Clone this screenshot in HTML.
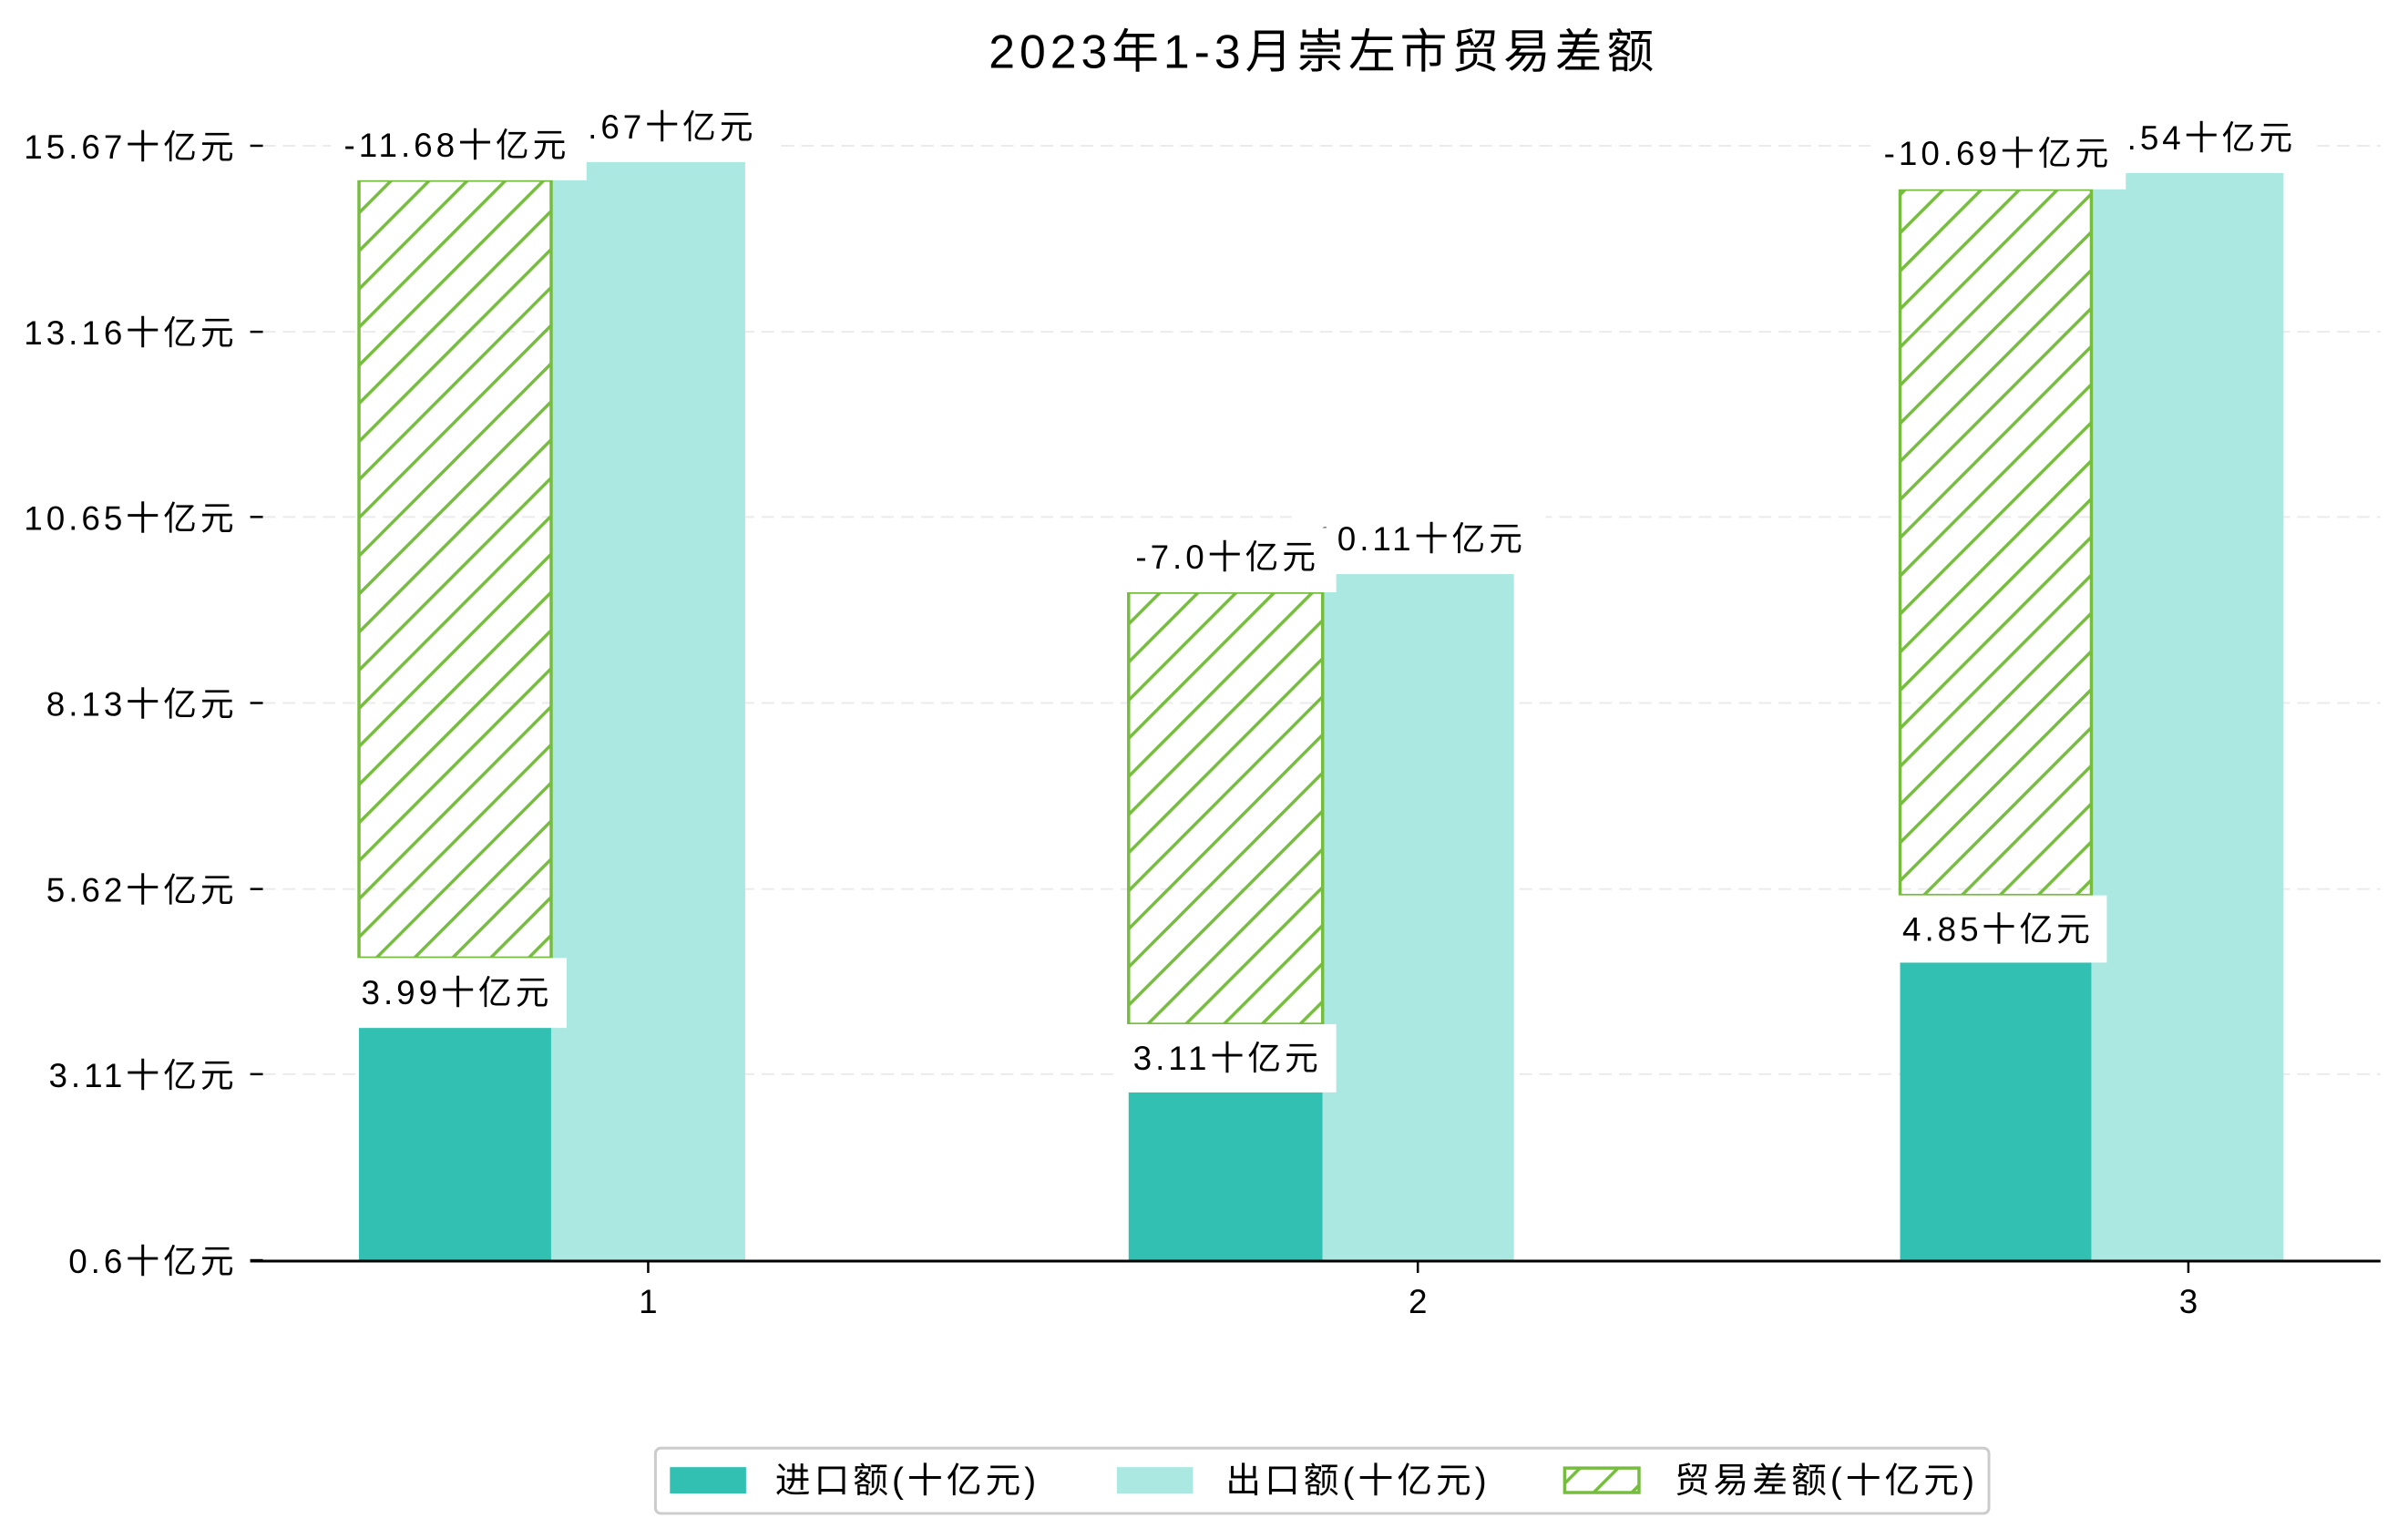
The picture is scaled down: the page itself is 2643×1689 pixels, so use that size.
<!DOCTYPE html>
<html><head><meta charset="utf-8"><style>
html,body{margin:0;padding:0;background:#fff;}
svg{display:block;}
text{font-family:"Liberation Sans","Noto Sans CJK SC",sans-serif;fill:#000;}
</style></head><body>
<svg width="2643" height="1689" viewBox="0 0 2643 1689" xmlns="http://www.w3.org/2000/svg">
<defs>
<pattern id="h" patternUnits="userSpaceOnUse" width="42" height="42">
<line x1="-2" y1="44" x2="44" y2="-2" stroke="#76bd3f" stroke-width="3.5"/>
<line x1="-23" y1="23" x2="23" y2="-23" stroke="#76bd3f" stroke-width="3.5"/>
<line x1="19" y1="65" x2="65" y2="19" stroke="#76bd3f" stroke-width="3.5"/>
</pattern>
</defs>
<g transform="translate(0,0.6) scale(0.995,0.996)">
<text x="1460" y="74" font-size="52" letter-spacing="5" text-anchor="middle">2023年1-3月崇左市贸易差额</text>
<g stroke="#ebebeb" stroke-width="2" stroke-dasharray="14,8">
<line x1="290" y1="160" x2="2626" y2="160"/>
<line x1="290" y1="365" x2="2626" y2="365"/>
<line x1="290" y1="569" x2="2626" y2="569"/>
<line x1="290" y1="774" x2="2626" y2="774"/>
<line x1="290" y1="979" x2="2626" y2="979"/>
<line x1="290" y1="1183" x2="2626" y2="1183"/>
</g>
<g stroke="#000" stroke-width="2.5">
<line x1="276" y1="160" x2="290" y2="160"/>
<line x1="276" y1="365" x2="290" y2="365"/>
<line x1="276" y1="569" x2="290" y2="569"/>
<line x1="276" y1="774" x2="290" y2="774"/>
<line x1="276" y1="979" x2="290" y2="979"/>
<line x1="276" y1="1183" x2="290" y2="1183"/>
<line x1="276" y1="1388" x2="290" y2="1388"/>
</g>
<g font-size="37" text-anchor="end" letter-spacing="4">
<text x="262" y="174">15.67十亿元</text>
<text x="262" y="379">13.16十亿元</text>
<text x="262" y="583">10.65十亿元</text>
<text x="262" y="788">8.13十亿元</text>
<text x="262" y="993">5.62十亿元</text>
<text x="262" y="1197">3.11十亿元</text>
<text x="262" y="1402">0.6十亿元</text>
</g>
<g fill="#32c0b3">
<rect x="396" y="1132" width="212" height="256"/>
<rect x="1245" y="1203" width="214" height="185"/>
<rect x="2096" y="1060" width="211" height="328"/>
</g>
<g fill="#aae8e1">
<rect x="608" y="178" width="214" height="1210"/>
<rect x="1459" y="632" width="211" height="756"/>
<rect x="2307" y="190" width="212" height="1198"/>
</g>
<g fill="url(#h)" stroke="#76bd3f" stroke-width="3.5">
<rect x="396" y="198" width="212" height="857"/>
<rect x="1245" y="652" width="214" height="476"/>
<rect x="2096" y="208" width="211" height="778"/>
</g>
<g font-size="37" text-anchor="middle" letter-spacing="4">
<rect x="575" y="108" width="280" height="68" fill="#fff"/>
<text x="717" y="152">15.67十亿元</text>
<rect x="1425" y="562" width="280" height="68" fill="#fff"/>
<text x="1567" y="606">10.11十亿元</text>
<rect x="2273" y="120" width="280" height="68" fill="#fff"/>
<text x="2415" y="164">15.54十亿元</text>
<rect x="365" y="124" width="282" height="74" fill="#fff"/>
<text x="504" y="172">-11.68十亿元</text>
<rect x="1233" y="581" width="241" height="71" fill="#fff"/>
<text x="1354" y="626">-7.0十亿元</text>
<rect x="2064" y="136" width="281" height="72" fill="#fff"/>
<text x="2204" y="181">-10.69十亿元</text>
<rect x="388" y="1055" width="237" height="77" fill="#fff"/>
<text x="504" y="1106">3.99十亿元</text>
<rect x="1236" y="1128" width="238" height="75" fill="#fff"/>
<text x="1354" y="1178">3.11十亿元</text>
<rect x="2084" y="986" width="240" height="74" fill="#fff"/>
<text x="2204" y="1036">4.85十亿元</text>
</g>
<line x1="276" y1="1389" x2="2626" y2="1389" stroke="#000" stroke-width="3"/>
<g stroke="#000" stroke-width="2.5">
<line x1="715" y1="1389" x2="715" y2="1402"/>
<line x1="1564" y1="1389" x2="1564" y2="1402"/>
<line x1="2414" y1="1389" x2="2414" y2="1402"/>
</g>
<g font-size="37" text-anchor="middle">
<text x="715" y="1446">1</text>
<text x="1564" y="1446">2</text>
<text x="2414" y="1446">3</text>
</g>
<rect x="723" y="1595" width="1471" height="72" rx="6" fill="#fff" stroke="#cccccc" stroke-width="3"/>
<rect x="739" y="1616" width="84" height="29" fill="#32c0b3"/>
<text x="855" y="1644" font-size="39" letter-spacing="4">进口额(十亿元)</text>
<rect x="1232" y="1616" width="84" height="29" fill="#aae8e1"/>
<text x="1352" y="1644" font-size="39" letter-spacing="4">出口额(十亿元)</text>
<rect x="1726" y="1617" width="82" height="27" fill="url(#h)" stroke="#76bd3f" stroke-width="3.5"/>
<text x="1847" y="1644" font-size="39" letter-spacing="4">贸易差额(十亿元)</text>
</g>
</svg>
</body></html>
